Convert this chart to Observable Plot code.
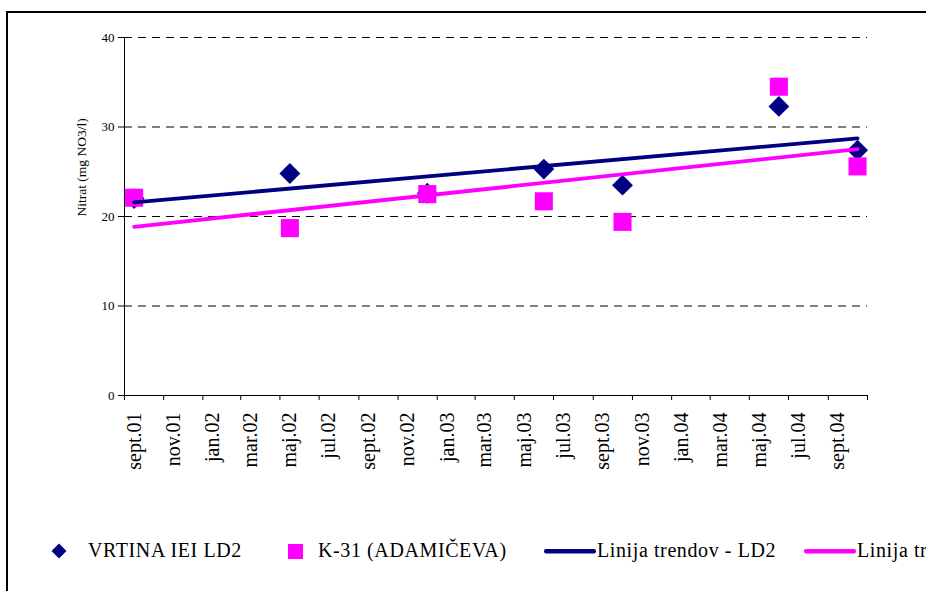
<!DOCTYPE html>
<html>
<head>
<meta charset="utf-8">
<script src="https://cdn.jsdelivr.net/npm/d3@7"></script>
<script src="https://cdn.jsdelivr.net/npm/@observablehq/plot@0.6"></script>
<style>
  html, body { margin: 0; padding: 0; background: #fff; width: 926px; height: 591px; overflow: hidden; }
  body { position: relative; font-family: "Liberation Serif", Tinos, "Times New Roman", Times, "DejaVu Serif", serif; }
  #frame { position: absolute; left: 6px; top: 11px; width: 2000px; height: 2000px;
           border-left: 2px solid #000; border-top: 2px solid #000; }
  #chart { position: absolute; left: 0; top: 0; }
  #chart svg, #chart svg text { font-family: "Liberation Serif", Tinos, "Times New Roman", Times, "DejaVu Serif", serif !important; }
  #legend { position: absolute; left: 0; top: 0; width: 926px; height: 591px; font-size: 20px; letter-spacing: 0.6px; color: #000; white-space: nowrap; }
  .lg { position: absolute; line-height: 1; }
  .lg svg { display: block; }
</style>
</head>
<body>
<div id="frame"></div>
<div id="chart"></div>
<div id="legend"></div>
<script>
// ---- data ----
const seriesNames = ["VRTINA IEI LD2", "K-31 (ADAMIČEVA)", "Linija trendov - LD2", "Linija trendov - K-31 (ADAMIČEVA)"];
const sampleMonths = ["2001-09", "2002-05", "2002-12", "2003-06", "2003-10", "2004-06", "2004-10"];
const ld2Values = [22.0, 24.8, 22.6, 25.3, 23.5, 32.3, 27.4];
const k31Values = [22.1, 18.7, 22.5, 21.7, 19.4, 34.5, 25.6];
const tickMonths = ["2001-09","2001-11","2002-01","2002-03","2002-05","2002-07","2002-09","2002-11",
  "2003-01","2003-03","2003-05","2003-07","2003-09","2003-11","2004-01","2004-03","2004-05","2004-07","2004-09"];
const tickLabels = ["sept.01","nov.01","jan.02","mar.02","maj.02","jul.02","sept.02","nov.02",
  "jan.03","mar.03","maj.03","jul.03","sept.03","nov.03","jan.04","mar.04","maj.04","jul.04","sept.04"];
const yTicks = [0, 10, 20, 30, 40];
const yLabel = "Nitrat (mg NO3/l)";
const xStart = "2001-09";
const xEnd = "2004-11";

// ---- helpers ----
const FONT = "'Liberation Serif', Tinos, 'Times New Roman', Times, 'DejaVu Serif', serif";
const parseMonth = d3.utcParse("%Y-%m");
const monthMid = s => { const a = parseMonth(s); const b = d3.utcMonth.offset(a, 1); return new Date((+a + +b) / 2); };
const data = sampleMonths.map((m, i) => ({date: monthMid(m), ld2: ld2Values[i], k31: k31Values[i]}));
const majorTicks = tickMonths.map(parseMonth).concat([parseMonth(xEnd)]);
const labelTicks = tickMonths.map(monthMid);
const labelMap = new Map(labelTicks.map((d, i) => [+d, tickLabels[i]]));

const NAVY = "#000080", MAGENTA = "#FF00FF";

const chart = Plot.plot({
  width: 926,
  height: 480,
  marginLeft: 124,
  marginRight: 59,
  marginTop: 37,
  marginBottom: 85,
  style: {fontFamily: FONT, color: "#000", background: "transparent"},
  x: {type: "utc", domain: [parseMonth(xStart), parseMonth(xEnd)]},
  y: {domain: [0, 40]},
  marks: [
    Plot.ruleY(yTicks.filter(d => d > 0), {stroke: "#000", strokeWidth: 1, strokeDasharray: "8,6"}),
    Plot.frame({anchor: "left", stroke: "#000", strokeWidth: 1}),
    Plot.frame({anchor: "bottom", stroke: "#000", strokeWidth: 1}),
    Plot.axisY({ticks: yTicks, tickSize: 6, tickPadding: 4, fontSize: 13, label: null}),
    Plot.text([yLabel], {frameAnchor: "left", dx: -43, rotate: -90, fontSize: 13.5, text: d => d}),
    Plot.axisX({ticks: majorTicks, tickSize: 5, tickFormat: () => "", label: null}),
    Plot.axisX({ticks: labelTicks, tickSize: 0, tickPadding: 17, tickRotate: -90, fontSize: 20,
      tickFormat: d => labelMap.get(+d), label: null}),
    Plot.dot(data, {x: "date", y: "ld2", symbol: "diamond2", r: 9.4, fill: NAVY, stroke: "none"}),
    Plot.dot(data, {x: "date", y: "k31", symbol: "square", r: 10.2, fill: MAGENTA, stroke: "none"}),
    Plot.linearRegressionY(data, {x: "date", y: "ld2", stroke: NAVY, strokeWidth: 3.8, ci: 0}),
    Plot.linearRegressionY(data, {x: "date", y: "k31", stroke: MAGENTA, strokeWidth: 3.8, ci: 0})
  ]
});
document.getElementById("chart").appendChild(chart);

// ---- legend ----
const lg = document.getElementById("legend");
const cy = 551;
function add(html, left, top) {
  const e = document.createElement("div");
  e.className = "lg"; e.style.left = left + "px"; e.style.top = top + "px";
  e.innerHTML = html; lg.appendChild(e); return e;
}
add(`<svg width="16" height="16"><path d="M8,0.5L15.5,8L8,15.5L0.5,8Z" fill="${NAVY}"/></svg>`, 51, cy - 8);
add(seriesNames[0], 88, cy - 11);
add(`<svg width="15" height="15"><rect width="15" height="15" fill="${MAGENTA}"/></svg>`, 288, cy - 7);
add(seriesNames[1], 318, cy - 11);
add(`<svg width="52" height="5"><rect y="0" width="52" height="4.5" rx="2" fill="${NAVY}"/></svg>`, 544, cy - 2);
add(seriesNames[2], 597, cy - 11);
add(`<svg width="52" height="5"><rect y="0" width="52" height="4.5" rx="2" fill="${MAGENTA}"/></svg>`, 804, cy - 2);
add(seriesNames[3], 857, cy - 11);
</script>
</body>
</html>
